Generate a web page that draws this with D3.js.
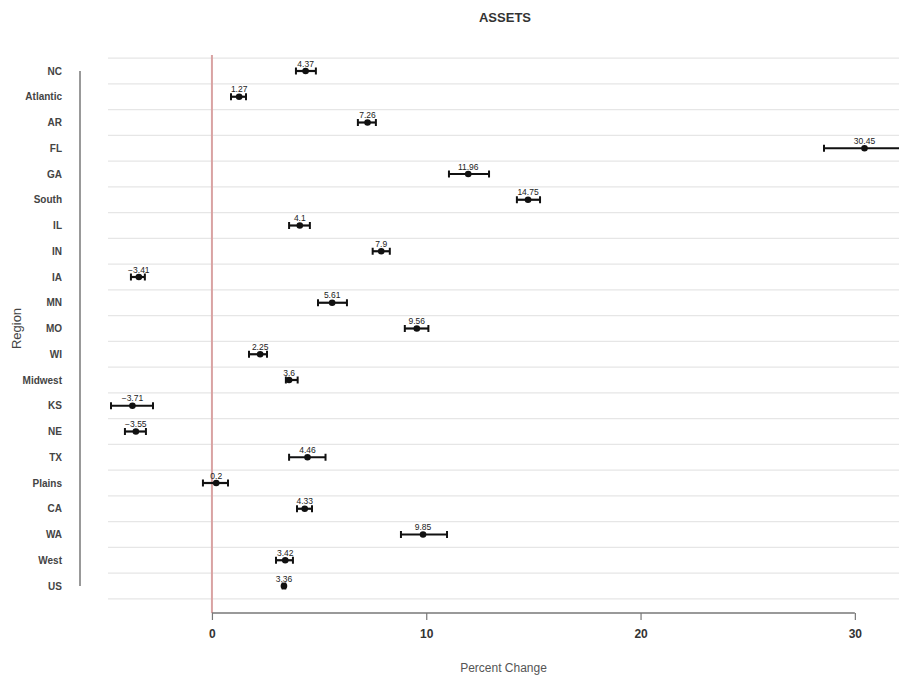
<!DOCTYPE html>
<html>
<head>
<meta charset="utf-8">
<script src="https://cdn.jsdelivr.net/npm/d3@7"></script>
<style>
  html, body { margin: 0; padding: 0; background: #fff; }
  svg { display: block; font-family: "Liberation Sans", Arial, sans-serif; }
</style>
</head>
<body>
<svg id="chart" width="899" height="683"></svg>
<script>
// Percent change in assets by region, with confidence intervals
const regions = ["NC", "Atlantic", "AR", "FL", "GA", "South", "IL", "IN", "IA", "MN", "MO",
                 "WI", "Midwest", "KS", "NE", "TX", "Plains", "CA", "WA", "West", "US"];
const estimates = [4.37, 1.27, 7.26, 30.45, 11.96, 14.75, 4.1, 7.9, -3.41, 5.61, 9.56,
                   2.25, 3.6, -3.71, -3.55, 4.46, 0.2, 4.33, 9.85, 3.42, 3.36];
const lower = [3.92, 0.89, 6.81, 28.56, 11.06, 14.23, 3.6, 7.5, -3.78, 4.95, 9.0,
               1.73, 3.45, -4.71, -4.06, 3.6, -0.42, 3.97, 8.82, 2.99, 3.3];
const upper = [4.85, 1.59, 7.65, 32.4, 12.93, 15.31, 4.57, 8.3, -3.13, 6.3, 10.1,
               2.57, 4.0, -2.75, -3.08, 5.3, 0.75, 4.67, 10.97, 3.78, 3.42];
const xTicks = [0, 10, 20, 30];

const svg = d3.select("#chart");
const plot = { left: 108, right: 899, top: 55, bottom: 600 };

const x = d3.scaleLinear().domain([-4.85, 32.06]).range([plot.left, plot.right]);
const y = d3.scalePoint().domain(regions).range([71, 586]);
const step = y.step();

svg.append("defs").append("clipPath").attr("id", "plotClip")
  .append("rect")
  .attr("x", plot.left).attr("y", 40)
  .attr("width", plot.right - plot.left).attr("height", 580);

// light horizontal separators between rows
const bounds = regions.map(r => y(r) - step / 2).concat([y(regions[regions.length - 1]) + step / 2]);
svg.append("g")
  .selectAll("line")
  .data(bounds)
  .join("line")
  .attr("x1", plot.left).attr("x2", plot.right)
  .attr("y1", d => d).attr("y2", d => d)
  .attr("stroke", "#e6e6e6")
  .attr("stroke-width", 1.3);

// zero reference line
svg.append("line")
  .attr("x1", x(0)).attr("x2", x(0))
  .attr("y1", plot.top).attr("y2", 613)
  .attr("stroke", "#d9a3a3")
  .attr("stroke-width", 2);

const rows = regions.map((r, i) => ({ region: r, est: estimates[i], lo: lower[i], hi: upper[i] }));
const marks = svg.append("g").attr("clip-path", "url(#plotClip)");

// interval bars
marks.selectAll("line.ci")
  .data(rows)
  .join("line")
  .attr("class", "ci")
  .attr("x1", d => x(d.lo)).attr("x2", d => x(d.hi))
  .attr("y1", d => y(d.region)).attr("y2", d => y(d.region))
  .attr("stroke", "#111")
  .attr("stroke-width", 2.2);

// end caps
const caps = rows.flatMap(d => [{ region: d.region, v: d.lo }, { region: d.region, v: d.hi }]);
marks.selectAll("line.cap")
  .data(caps)
  .join("line")
  .attr("class", "cap")
  .attr("x1", d => x(d.v)).attr("x2", d => x(d.v))
  .attr("y1", d => y(d.region) - 3.5).attr("y2", d => y(d.region) + 3.5)
  .attr("stroke", "#111")
  .attr("stroke-width", 2);

// point estimates
marks.selectAll("circle")
  .data(rows)
  .join("circle")
  .attr("cx", d => x(d.est))
  .attr("cy", d => y(d.region))
  .attr("r", 3.3)
  .attr("fill", "#111");

// value labels
marks.selectAll("text.val")
  .data(rows)
  .join("text")
  .attr("class", "val")
  .attr("x", d => x(d.est))
  .attr("y", d => y(d.region) - 4.5)
  .attr("text-anchor", "middle")
  .attr("font-size", 8.5)
  .attr("fill", "#222")
  .text(d => d3.format("")(d.est).replace("-", "\u2212"));

// y axis
const yAxis = svg.append("g").attr("transform", "translate(80,0)")
  .call(d3.axisLeft(y).tickSize(0).tickPadding(18));
yAxis.select(".domain").attr("stroke", "#777").attr("stroke-width", 1.5)
  .attr("d", `M0,${y(regions[0])}V${y(regions[regions.length - 1])}`);
yAxis.selectAll("text")
  .attr("font-size", 10).attr("font-weight", "bold").attr("fill", "#444")
  .attr("font-family", "Liberation Sans, Arial, sans-serif");

// x axis
const xAxis = svg.append("g").attr("transform", "translate(0,613)")
  .call(d3.axisBottom(x).tickValues(xTicks).tickSize(7).tickPadding(9).tickFormat(d3.format("d")));
xAxis.select(".domain").attr("stroke", "#777").attr("stroke-width", 1.5)
  .attr("d", `M${x(xTicks[0])},0H${x(xTicks[xTicks.length - 1])}`);
xAxis.selectAll(".tick line").attr("stroke", "#777").attr("stroke-width", 1.2);
xAxis.selectAll("text")
  .attr("font-size", 12).attr("font-weight", "bold").attr("fill", "#333")
  .attr("font-family", "Liberation Sans, Arial, sans-serif");

// titles
svg.append("text")
  .attr("x", 505).attr("y", 22)
  .attr("text-anchor", "middle")
  .attr("font-size", 13).attr("font-weight", "bold").attr("fill", "#333")
  .text("ASSETS");

svg.append("text")
  .attr("x", (plot.left + plot.right) / 2).attr("y", 672)
  .attr("text-anchor", "middle")
  .attr("font-size", 12).attr("fill", "#555")
  .text("Percent Change");

svg.append("text")
  .attr("transform", `translate(21,${(y(regions[0]) + y(regions[regions.length - 1])) / 2}) rotate(-90)`)
  .attr("text-anchor", "middle")
  .attr("font-size", 13).attr("fill", "#444")
  .text("Region");
</script>
</body>
</html>
